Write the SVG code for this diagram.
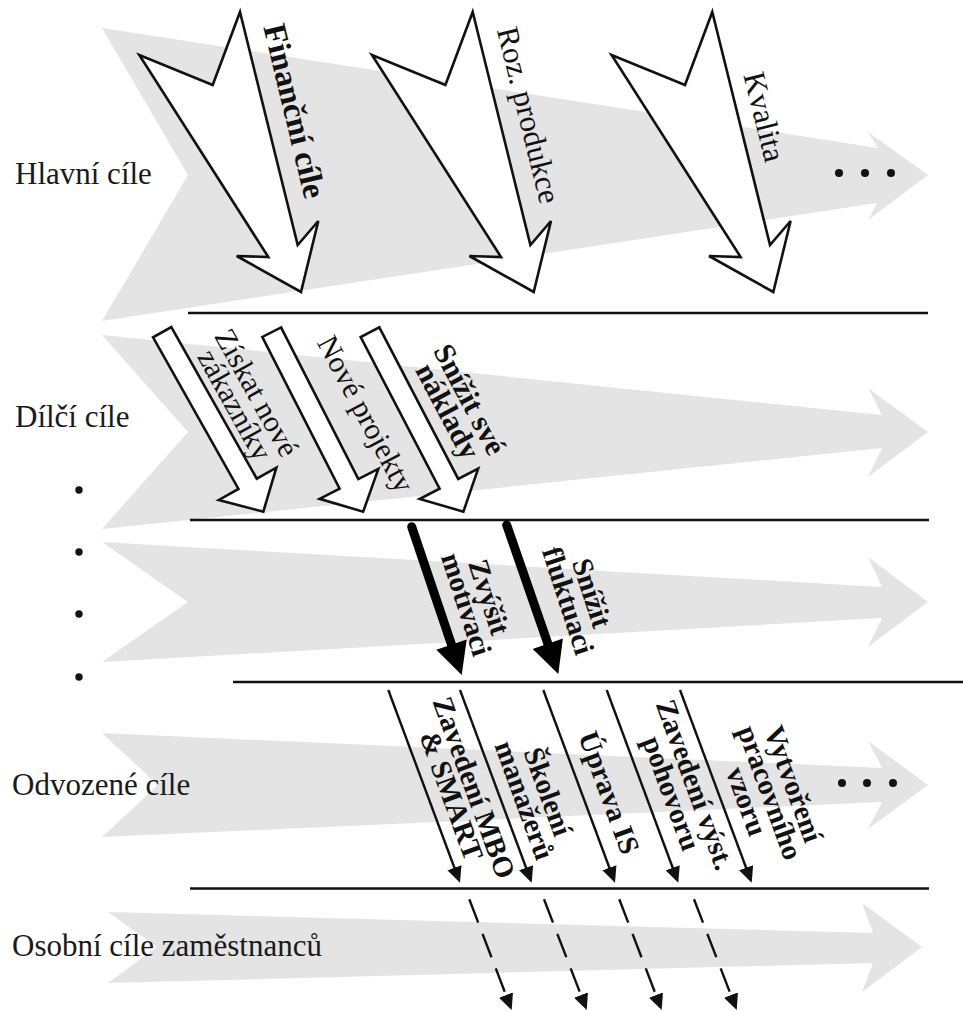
<svg xmlns="http://www.w3.org/2000/svg" xmlns:xlink="http://www.w3.org/1999/xlink" width="963" height="1011" viewBox="0 0 963 1011">
<style>
.bg{fill:#ffffff}
.band{fill:#e4e4e4}
.lbl{font-family:"Liberation Serif","Times New Roman",serif;font-size:31px;fill:#1a1a1a}
.rl{font-family:"Liberation Serif","Times New Roman",serif;font-size:29px;fill:#111}
.f30{font-size:30px}
.f31{font-size:31px}
.f32{font-size:32.5px}
.b{font-weight:bold}
.big{fill:#fff;stroke:#111;stroke-width:2.6;stroke-linejoin:miter}
.sep{stroke:#111;stroke-width:2.6}
.thick{stroke:#000;stroke-width:9;stroke-linecap:round}
.head{fill:#000}
.thin{stroke:#111;stroke-width:2.4;fill:none;marker-end:url(#ah)}
.dash{stroke:#111;stroke-width:2.4;fill:none;stroke-dasharray:25 12;marker-end:url(#ah)}
.dot{fill:#111}
</style>
<defs>
<marker id="ah" viewBox="0 0 16 15" refX="4" refY="7.5" markerWidth="16" markerHeight="15" markerUnits="userSpaceOnUse" orient="auto">
<path d="M0,0 L16,7.5 L0,15 Z" fill="#111"/>
</marker>
<polygon id="bigArrow" points="240,12 297.7,245 318.3,221 301,292 236.7,256 268.3,257 139.3,55 212.7,85"/>
<polygon id="midArrow" points="0,-10.5 174,-10.5 174,-33 206,0 174,33 174,10.5 0,10.5"/>
</defs>
<rect class="bg" x="0" y="0" width="963" height="1011"/>

<g id="bands">
<path class="band" d="M102,28 L878,148 L868,132 L928,175 L868,220 L877,203 L102,321 L188,175 Z"/>
<path class="band" d="M102,335 L882,415 L868,388 L928,432 L868,477 L882,448 L102,529 L188,432 Z"/>
<path class="band" d="M102,542 L882,587 L868,557 L928,602 L868,647 L882,618 L102,662 L188,602 Z"/>
<path class="band" d="M102,733 L882,768 L868,741 L928,785 L868,829 L882,802 L102,837 L158,785 Z"/>
<path class="band" d="M108,912 L873,933 L862,903 L922,947 L862,992 L873,963 L108,983 L157,947 Z"/>
</g>

<g id="separators">
<line class="sep" x1="188" y1="313" x2="928" y2="313"/>
<line class="sep" x1="190" y1="520" x2="929" y2="520"/>
<line class="sep" x1="233" y1="682" x2="963" y2="682"/>
<line class="sep" x1="190" y1="888.5" x2="929" y2="888.5"/>
</g>

<g id="level-labels">
<text class="lbl" x="15" y="184">Hlavní cíle</text>
<text class="lbl" x="15" y="427">Dílčí cíle</text>
<text class="lbl" x="12" y="795">Odvozené cíle</text>
<text class="lbl" x="12" y="956">Osobní cíle zaměstnanců</text>
</g>

<g id="dots">
<circle class="dot" cx="79" cy="490" r="3.7"/>
<circle class="dot" cx="79" cy="552" r="3.7"/>
<circle class="dot" cx="79" cy="614" r="3.7"/>
<circle class="dot" cx="79" cy="677" r="3.7"/>
<circle class="dot" cx="839" cy="173" r="4"/>
<circle class="dot" cx="865" cy="173" r="4"/>
<circle class="dot" cx="891" cy="173" r="4"/>
<circle class="dot" cx="842" cy="783" r="4"/>
<circle class="dot" cx="867" cy="783" r="4"/>
<circle class="dot" cx="893" cy="783" r="4"/>
</g>

<g id="financni-cile">
<use xlink:href="#bigArrow" href="#bigArrow" class="big"/>
<text class="rl b f32" transform="translate(263.3,27) rotate(76.5)">Finanční cíle</text>
</g>
<g id="roz-produkce">
<use xlink:href="#bigArrow" href="#bigArrow" class="big" transform="translate(232.7,0)"/>
<text class="rl f31" transform="translate(496.7,30) rotate(76)">Roz. produkce</text>
</g>
<g id="kvalita">
<use xlink:href="#bigArrow" href="#bigArrow" class="big" transform="translate(472.3,0)"/>
<text class="rl f31" transform="translate(743.3,75) rotate(76)">Kvalita</text>
</g>

<g id="ziskat-zakazniky">
<use xlink:href="#midArrow" href="#midArrow" class="big" transform="translate(162.2,332.2) rotate(60.6)"/>
<g transform="translate(248,397.5) rotate(61)" text-anchor="middle">
<text class="rl f30" x="0" y="0">Získat nové</text>
<text class="rl f30" x="0" y="25">zákazníky</text>
</g>
</g>
<g id="nove-projekty">
<use xlink:href="#midArrow" href="#midArrow" class="big" transform="translate(271.7,332.2) rotate(63) scale(0.978,1)"/>
<text class="rl f30" text-anchor="middle" transform="translate(357,418.6) rotate(62)">Nové projekty</text>
</g>
<g id="snizit-naklady">
<use xlink:href="#midArrow" href="#midArrow" class="big" transform="translate(370,332.2) rotate(62.5) scale(0.982,1)"/>
<g transform="translate(461,404) rotate(62)" text-anchor="middle">
<text class="rl b f30" x="0" y="0">Snížit své</text>
<text class="rl b f30" x="0" y="25">náklady</text>
</g>
</g>

<g id="zvysit-motivaci">
<g transform="translate(480,600) rotate(72)" text-anchor="middle">
<text class="rl b" x="0" y="0">Zvýšit</text>
<text class="rl b" x="0" y="24">motivaci</text>
</g>
</g>
<g id="snizit-fluktuaci">
<g transform="translate(582.7,596) rotate(72)" text-anchor="middle">
<text class="rl b" x="0" y="0">Snížit</text>
<text class="rl b" x="0" y="25">fluktuaci</text>
</g>
</g>

<g id="zavedeni-mbo">
<g transform="translate(465,791) rotate(70)" text-anchor="middle">
<text class="rl b" x="0" y="0">Zavedení MBO</text>
<text class="rl b" x="0" y="24">&amp; SMART</text>
</g>
</g>
<g id="skoleni-manazeru">
<g transform="translate(539,795) rotate(70)" text-anchor="middle">
<text class="rl b" x="0" y="0">Školení</text>
<text class="rl b" x="0" y="25">manažerů</text>
</g>
</g>
<g id="uprava-is">
<text class="rl b" text-anchor="middle" transform="translate(600,796) rotate(70)">Úprava IS</text>
</g>
<g id="zavedeni-pohovoru">
<g transform="translate(686,788) rotate(70)" text-anchor="middle">
<text class="rl b" x="0" y="0">Zavedení výst.</text>
<text class="rl b" x="0" y="25">pohovoru</text>
</g>
</g>
<g id="vytvoreni-vzoru">
<g transform="translate(784.6,787.4) rotate(70)" text-anchor="middle">
<text class="rl b" x="0" y="0">Vytvoření</text>
<text class="rl b" x="0" y="25">pracovního</text>
<text class="rl b" x="0" y="50">vzoru</text>
</g>
</g>

<g id="connectors">
<line class="thick" x1="411.7" y1="526.7" x2="453" y2="649"/>
<polygon class="head" points="466.7,639.6 461.7,675 436.3,649.8"/>
<line class="thick" x1="506.7" y1="525" x2="549" y2="647"/>
<polygon class="head" points="562.9,638.6 558.3,674 532.7,649"/>
<line class="thin" x1="388.3" y1="690" x2="455.8" y2="871.5"/>
<line class="thin" x1="460" y1="690" x2="527.5" y2="871.5"/>
<line class="thin" x1="543.3" y1="690" x2="610.8" y2="871.5"/>
<line class="thin" x1="606.7" y1="690" x2="674.1" y2="871.5"/>
<line class="thin" x1="680" y1="690" x2="747.5" y2="871.5"/>
<line class="dash" x1="469.3" y1="899.3" x2="507.4" y2="998.8"/>
<line class="dash" x1="544" y1="899.3" x2="582.4" y2="998.8"/>
<line class="dash" x1="619.3" y1="899.3" x2="657.4" y2="998.8"/>
<line class="dash" x1="694" y1="899.3" x2="732.4" y2="998.8"/>
</g>
</svg>
